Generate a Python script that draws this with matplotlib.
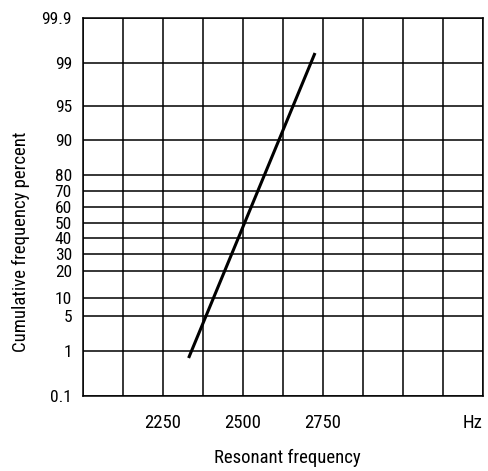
import matplotlib
matplotlib.use('Agg')
import matplotlib.pyplot as plt
import numpy as np

plt.rcParams['font.family'] = ['Roboto Condensed', 'DejaVu Sans']

# Data
freq = [2330, 2725]          # Hz, ends of the fitted line
cum_pct = [0.86, 99.2]       # cumulative frequency percent

x_ticks = [2250, 2500, 2750]
x_tick_labels = ['2250', '2500', '2750']
y_ticks = [0.1, 1, 5, 10, 20, 30, 40, 50, 60, 70, 80, 90, 95, 99, 99.9]
y_tick_labels = ['0.1', '1', '5', '10', '20', '30', '40', '50', '60', '70', '80', '90', '95', '99', '99.9']

# probability-paper spacing of the printed grid (relative positions)
y_pos = [0, 45, 80, 98, 125, 142, 158, 173, 189, 205, 221, 256, 290, 333, 378]


def fwd(p):
    return np.interp(p, y_ticks, y_pos)


def inv(v):
    return np.interp(v, y_pos, y_ticks)


fig = plt.figure(figsize=(4.88, 4.71), dpi=100)
ax = fig.add_axes([83 / 488, 1 - 396 / 471, 400 / 488, 378 / 471])

ax.plot(freq, cum_pct, color='black', linewidth=2.2, solid_capstyle='butt')

ax.set_yscale('function', functions=(fwd, inv))
ax.set_ylim(0.1, 99.9)
ax.set_xlim(2000, 3250)

ax.set_yticks(y_ticks)
ax.set_yticklabels(y_tick_labels)
ax.set_xticks(np.arange(2000, 3251, 125), minor=True)
ax.set_xticks(x_ticks + [3250])
ax.set_xticklabels(x_tick_labels + ['Hz'])
ax.xaxis.get_majorticklabels()[-1].set_horizontalalignment('right')

ax.grid(True, which='both', axis='x', color='black', linewidth=1.1)
ax.grid(True, which='major', axis='y', color='black', linewidth=1.1)
ax.set_axisbelow(True)
ax.tick_params(which='both', length=0, colors='black')
ax.tick_params(axis='x', pad=13, labelsize=13.5)
ax.tick_params(axis='y', pad=8, labelsize=12.5)
for s in ax.spines.values():
    s.set_linewidth(1.1)

fig.text(287 / 488, 1 - 458 / 471, 'Resonant frequency', ha='center', va='center', fontsize=13.5)
fig.text(21 / 488, 1 - 242 / 471, 'Cumulative frequency percent', ha='center', va='center',
         rotation=90, fontsize=13.5)

fig.savefig('out.png', dpi=100)
